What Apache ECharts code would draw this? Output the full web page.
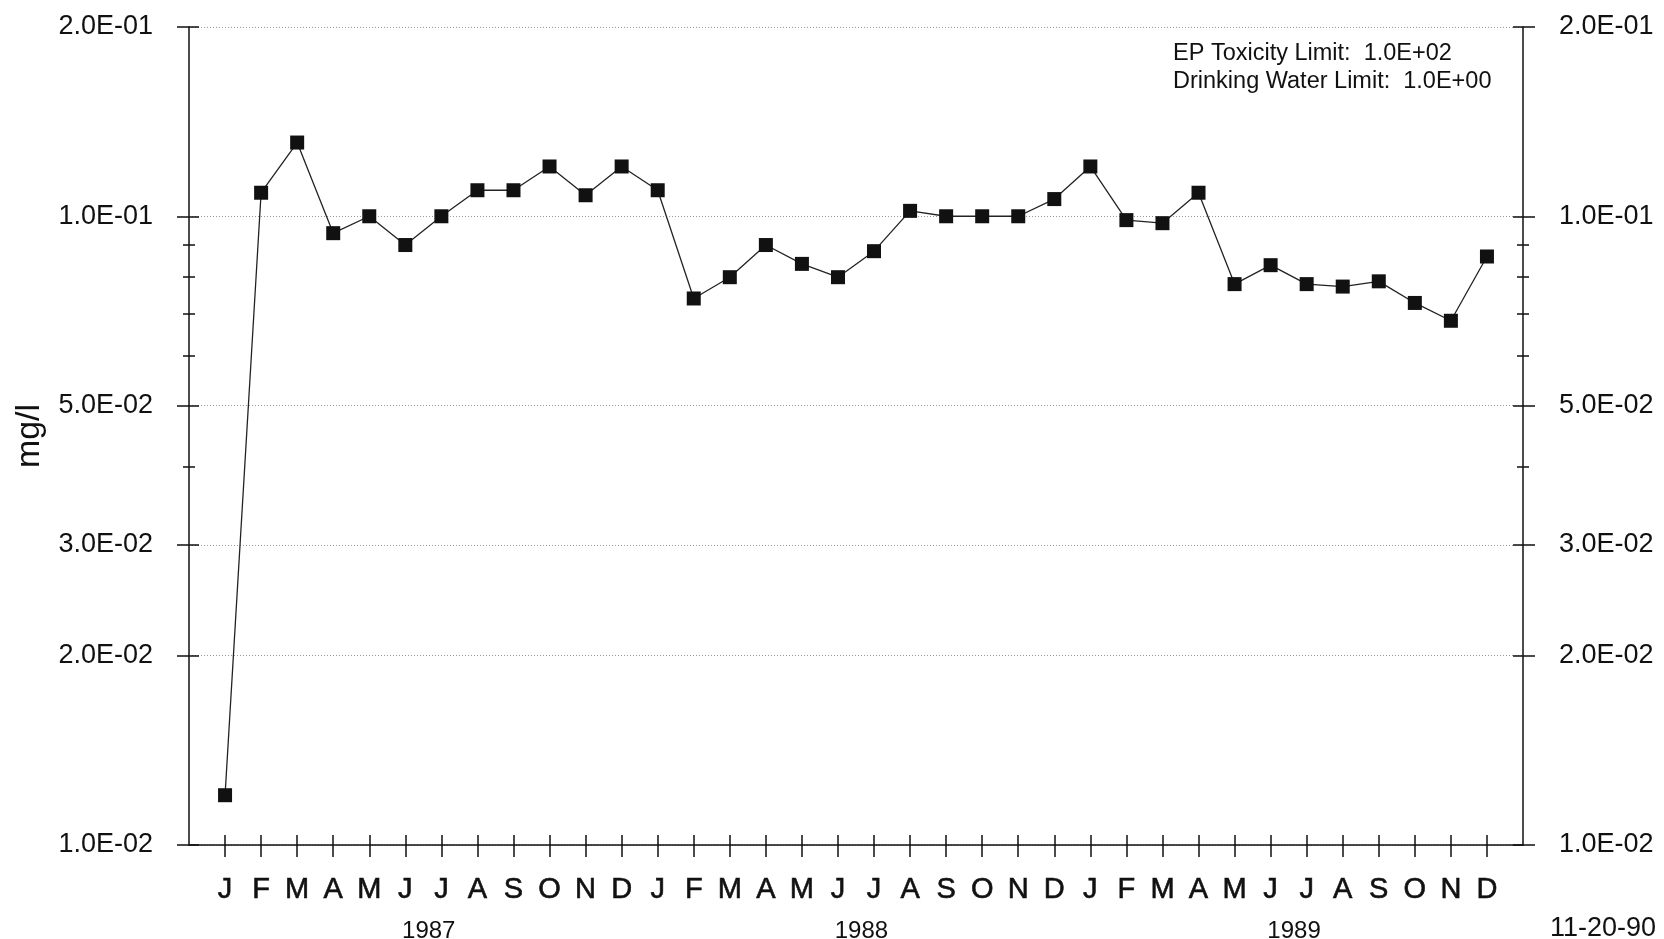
<!DOCTYPE html>
<html>
<head>
<meta charset="utf-8">
<script src="https://cdn.jsdelivr.net/npm/echarts@6/dist/echarts.min.js"></script>
<style>
html,body{margin:0;padding:0;background:#fff;}
#chart{width:1664px;height:939px;}
</style>
</head>
<body>
<div id="chart"></div>
<script>
// ---- data ----
const months = ['J','F','M','A','M','J','J','A','S','O','N','D'];
const years = ['1987','1988','1989'];
const values = [
  0.012, 0.109, 0.131, 0.094, 0.100, 0.090, 0.100, 0.110, 0.110, 0.120, 0.108, 0.120,
  0.110, 0.074, 0.080, 0.090, 0.084, 0.080, 0.088, 0.102, 0.100, 0.100, 0.100, 0.1065,
  0.120, 0.0986, 0.0975, 0.109, 0.078, 0.0836, 0.078, 0.0773, 0.0788, 0.0728, 0.0682, 0.0863
];
const majorTicks = [0.01, 0.02, 0.03, 0.05, 0.1, 0.2];
const minorTicks = [0.04, 0.06, 0.07, 0.08, 0.09];
const noteLines = ['EP Toxicity Limit:  1.0E+02', 'Drinking Water Limit:  1.0E+00'];
const dateStamp = '11-20-90';
const yName = 'mg/l';

// ---- build ----
const FONT = 'Liberation Sans, Arial, Helvetica, sans-serif';
const monthIdx = values.map((v, i) => i);
const yearIdx = years.map((y, k) => k * 12 + 5.65);
function fmtExp(v) {
  return v.toExponential(1).toUpperCase().replace(/E([+-])(\d)$/, 'E$10$2');
}
function yAx(pos, kind) {
  const base = {
    type: 'log', logBase: 10, min: 0.01, max: 0.2, position: pos,
    axisLine: { show: false, onZero: false }, axisLabel: { show: false }, splitLine: { show: false },
    axisTick: { show: true, lineStyle: { color: '#111', width: 1.5 } }
  };
  if (kind === 'main') {
    base.axisLine = { show: true, onZero: false, lineStyle: { color: '#111', width: 1.5 } };
    base.axisLabel = {
      show: true, customValues: majorTicks, formatter: fmtExp, margin: 36,
      fontFamily: FONT, fontSize: 27, color: '#111'
    };
    base.axisTick.customValues = majorTicks; base.axisTick.length = 12; base.axisTick.inside = false;
    if (pos === 'left') base.splitLine = { show: true, lineStyle: { color: '#999', width: 1, type: [1, 2] } };
  } else if (kind === 'majIn') {
    base.axisTick.customValues = majorTicks; base.axisTick.length = 10; base.axisTick.inside = true;
  } else if (kind === 'minOut') {
    base.axisTick.customValues = minorTicks; base.axisTick.length = 6; base.axisTick.inside = false;
  } else {
    base.axisTick.customValues = minorTicks; base.axisTick.length = 6; base.axisTick.inside = true;
  }
  return base;
}
const xBase = () => ({
  type: 'value', min: -1, max: 36, position: 'bottom',
  axisLine: { show: false, onZero: false }, splitLine: { show: false }, axisLabel: { show: false },
  axisTick: { show: false }
});
const x0 = xBase();
x0.axisLine = { show: true, onZero: false, lineStyle: { color: '#111', width: 1.5 } };
x0.axisTick = { show: true, customValues: monthIdx, length: 12, inside: false, lineStyle: { color: '#111', width: 1.5 } };
x0.axisLabel = { show: true, customValues: monthIdx, formatter: v => months[Math.round(v) % 12],
  margin: 30, fontFamily: FONT, fontSize: 29, color: '#111',
  textBorderColor: '#111', textBorderWidth: 0.6 };
const x1 = xBase();
x1.axisTick = { show: true, customValues: monthIdx, length: 10, inside: true, lineStyle: { color: '#111', width: 1.5 } };
const x2 = xBase();
x2.axisLabel = { show: true, customValues: yearIdx, formatter: v => years[Math.round((v - 5.65) / 12)],
  margin: 74, fontFamily: FONT, fontSize: 24, color: '#111' };

const chart = echarts.init(document.getElementById('chart'), null, { renderer: 'canvas' });
chart.setOption({
  backgroundColor: '#fff',
  animation: false,
  grid: { left: 189, right: 141, top: 27, bottom: 94, containLabel: false, outerBoundsMode: 'none' },
  xAxis: [x0, x1, x2],
  yAxis: [
    yAx('left', 'main'), yAx('left', 'majIn'), yAx('left', 'minOut'), yAx('left', 'minIn'),
    yAx('right', 'main'), yAx('right', 'majIn'), yAx('right', 'minOut'), yAx('right', 'minIn')
  ],
  series: [{
    type: 'line', xAxisIndex: 0, yAxisIndex: 0,
    data: values.map((v, i) => [monthIdx[i], v]),
    symbol: 'rect', symbolSize: 14,
    itemStyle: { color: '#111' },
    lineStyle: { color: '#222', width: 1.3 }
  }],
  graphic: [
    { type: 'text', left: 1173, top: 40,
      style: { text: noteLines.join('\n'), font: '23.5px ' + FONT, fill: '#111', lineHeight: 28 } },
    { type: 'text', right: 8, top: 915,
      style: { text: dateStamp, font: '27px ' + FONT, fill: '#111' } },
    { type: 'text', x: 30, y: 436, rotation: Math.PI / 2,
      style: { text: yName, font: '34px ' + FONT, fill: '#111', align: 'center', verticalAlign: 'middle' } }
  ]
});
</script>
</body>
</html>
